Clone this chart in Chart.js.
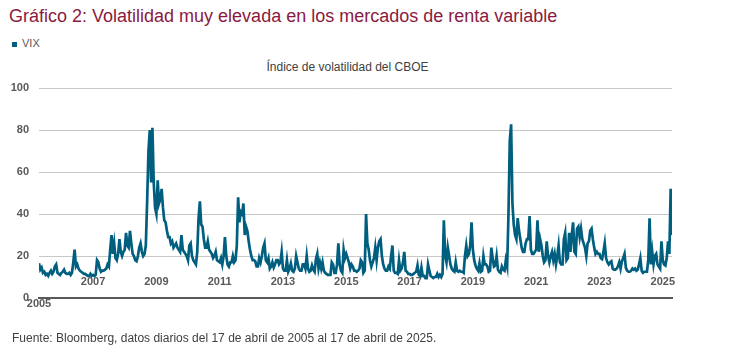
<!DOCTYPE html>
<html>
<head>
<meta charset="utf-8">
<script src="https://cdn.jsdelivr.net/npm/chart.js@4.4.1/dist/chart.umd.min.js"></script>
<style>
    body { margin: 0; width: 737px; height: 352px; background: #fff; font-family: 'Liberation Sans', Arial, sans-serif; position: relative; overflow: hidden; }
    #titulo { position: absolute; left: 9px; top: 6px; font-size: 18px; color: #8a1a40; white-space: nowrap; }
    #leyenda { position: absolute; left: 12px; top: 37px; font-size: 11px; color: #595959; }
    #leyenda span { display: inline-block; width: 5px; height: 5px; background: #005f7f; margin-right: 5px; vertical-align: 0px; }
    #subtitulo { position: absolute; left: 0; width: 695px; top: 60px; text-align: center; font-size: 12px; color: #404040; }
    #fuente { position: absolute; left: 12px; top: 331px; font-size: 12px; color: #404040; white-space: nowrap; }
    canvas { position: absolute; left: 0; top: 0; }
</style>
</head>
<body>
<div id="titulo">Gráfico 2: Volatilidad muy elevada en los mercados de renta variable</div>
<div id="leyenda"><span></span>VIX</div>
<div id="subtitulo">Índice de volatilidad del CBOE</div>
<canvas id="myChart" width="737" height="352"></canvas>
<div id="fuente">Fuente: Bloomberg, datos diarios del 17 de abril de 2005 al 17 de abril de 2025.</div>

<script>
// VIX, two readings per month (1st and 2nd half)
const vix2005 = [16.5, 13.5, 14.5, 12, 12.5, 11, 11.5, 10.5, 12, 13, 11.5, 12.5, 15, 16, 12, 11.5, 11] // from mid April
const vix2006 = [12, 12.5, 13.5, 12, 11.5, 11.5, 12, 11, 12, 17, 23, 15, 16, 14, 13, 12.5, 12, 11.5, 11.5, 11, 10.5, 10.5, 11.5, 10.5]
const vix2007 = [11, 10.5, 11, 18, 17, 14, 12.5, 13, 13, 13.5, 14, 16, 15, 23, 30, 21, 26, 19, 18, 21, 28, 22, 20, 22]
const vix2008 = [23, 31, 25, 24, 32, 26, 21, 20, 18, 17.5, 20, 24, 26, 22, 20, 21, 25, 46, 70, 80, 55, 81, 55, 43]
const vix2009 = [40, 56, 45, 47, 52, 43, 37, 36, 32, 29, 29, 26, 27, 24, 25, 26, 24, 23, 22, 30, 23, 22, 21, 20]
const vix2010 = [18, 25, 26, 20, 18, 17, 16, 22, 38, 46, 35, 34, 28, 24, 24, 27, 23, 22, 21, 19, 20, 22, 18, 17.5]
const vix2011 = [17, 19, 16, 20, 29, 20, 16, 15, 17, 17, 20, 17, 18, 25, 48, 36, 41, 40, 45, 30, 34, 32, 27, 23]
const vix2012 = [20, 18, 18, 17.5, 15, 15, 19, 17, 20, 24, 26, 18, 17, 19, 14, 15, 17, 14.5, 16, 18, 18, 16, 17, 22]
const vix2013 = [14, 13, 13, 18, 12.5, 14, 16.5, 13, 12.5, 14, 20, 17, 14, 13, 13, 16, 16, 14, 20, 14, 12.5, 13, 15.5, 13.5]
const vix2014 = [12.5, 18.5, 21, 14, 17, 14, 17, 13, 12, 11.5, 11, 11, 11, 17, 16, 12, 12, 16, 26, 16, 13, 12, 23, 19]
const vix2015 = [21, 19, 17, 14, 16, 15, 13, 13, 12.5, 13, 14, 18, 17, 12, 13, 40, 26, 23, 18, 15, 17, 19, 24, 18]
const vix2016 = [24, 27, 28, 20, 16, 14, 13, 13, 15, 14, 20, 25, 13, 12, 12, 11.5, 18, 13, 14, 17, 22, 13, 12.5, 11.5]
const vix2017 = [11.5, 11, 11, 11.5, 12, 12.5, 15.5, 11, 10.5, 14.5, 10.5, 10.5, 9.5, 9.5, 16, 13, 10.5, 10, 9.5, 10, 10, 11.5, 10, 11]
const vix2018 = [10, 11.5, 37, 20, 17, 24, 20, 16, 14, 13, 12.5, 17, 13, 12.5, 13, 12.5, 12.5, 12, 20, 25, 20, 21, 25, 36]
const vix2019 = [23, 18, 15.5, 14, 13, 16.5, 12.5, 13, 20, 16, 16, 15, 12.5, 13, 24, 19, 15, 15.5, 20, 13.5, 12.5, 12, 15, 13.5]
const vix2020 = [13, 18, 15, 40, 75, 82.7, 45, 35, 30, 28, 38, 32, 28, 24, 22, 22, 26, 28, 28, 39, 23, 21, 21, 22]
const vix2021 = [23, 37, 22, 28, 25, 20, 17, 18, 27, 20, 17, 20, 22, 18, 21, 16, 20, 25, 17, 16, 16, 28, 31, 18]
const vix2022 = [19, 31, 22, 30, 36, 22, 21, 33, 34, 29, 33, 28, 26, 24, 20, 26, 27, 32, 33, 28, 24, 21, 22, 21]
const vix2023 = [21, 19, 18.5, 22, 26, 19, 17, 16, 17, 17.5, 14, 13.5, 13.5, 14, 15, 17, 14, 17.5, 19, 21, 14.5, 13, 12.5, 12.5]
const vix2024 = [13, 14, 13.5, 14, 13, 13.5, 16, 19, 13, 12, 12.5, 12.5, 12.5, 18, 38, 16, 22, 16, 20, 21, 16, 15, 14, 27]
const vix2025 = [18, 16, 15.5, 19, 27, 21, 52, 30] // to 17 April

const years = [2005, 2006, 2007, 2008, 2009, 2010, 2011, 2012, 2013, 2014, 2015,
    2016, 2017, 2018, 2019, 2020, 2021, 2022, 2023, 2024, 2025]
const series = [vix2005, vix2006, vix2007, vix2008, vix2009, vix2010, vix2011, vix2012, vix2013, vix2014, vix2015,
    vix2016, vix2017, vix2018, vix2019, vix2020, vix2021, vix2022, vix2023, vix2024, vix2025]

const tickYears = [2007, 2009, 2011, 2013, 2015, 2017, 2019, 2021, 2023, 2025]
const yTicks = [0, 20, 40, 60, 80, 100]

const startX = 2005 + 7 / 24
const endX = 2025 + 7 / 24

// build x (decimal year) / y pairs
const points = []
years.forEach((yr, k) => {
    const arr = series[k]
    const offset = yr === 2005 ? 24 - arr.length : 0
    arr.forEach((v, i) => {
        points.push({ x: yr + (i + offset) / 24, y: v })
    })
})

const tickFont = { family: "'Liberation Sans', Arial, sans-serif", size: 11, weight: 'bold' }

// "2005" label under the start of the axis
const startLabel = {
    id: 'startLabel',
    afterDraw(chart) {
        const ctx = chart.ctx
        const x = chart.scales.x.getPixelForValue(startX)
        ctx.save()
        ctx.font = 'bold 11px "Liberation Sans", Arial, sans-serif'
        ctx.fillStyle = '#595959'
        ctx.textAlign = 'center'
        ctx.textBaseline = 'middle'
        ctx.fillText('2005', x, chart.chartArea.bottom + 6)
        ctx.restore()
    }
}

new Chart(document.getElementById('myChart'), {
    type: 'line',
    data: {
        datasets: [{
            label: 'VIX',
            data: points,
            borderColor: '#005f7f',
            borderWidth: 2.7,
            pointRadius: 0,
            tension: 0
        }]
    },
    options: {
        responsive: false,
        animation: false,
        layout: { padding: { left: 0, right: 65, top: 88, bottom: 0 } },
        plugins: {
            legend: { display: false },
            tooltip: { enabled: false }
        },
        scales: {
            x: {
                type: 'linear',
                min: startX,
                max: endX,
                afterBuildTicks: scale => {
                    scale.ticks = tickYears.map(v => ({ value: v }))
                },
                afterFit: scale => { scale.height = 54 },
                ticks: {
                    autoSkip: false,
                    maxRotation: 0,
                    mirror: true, // labels sit just above the axis line
                    padding: 9,
                    color: '#595959',
                    font: tickFont,
                    callback: v => String(v)
                },
                grid: { display: false, drawTicks: false },
                border: { display: true, color: '#595959', width: 2 }
            },
            y: {
                min: 0,
                max: 100,
                afterBuildTicks: scale => {
                    scale.ticks = yTicks.map(v => ({ value: v }))
                },
                afterFit: scale => { scale.width = 39 },
                ticks: {
                    padding: 10,
                    color: '#595959',
                    font: tickFont
                },
                grid: { color: '#c8c8c8', lineWidth: 1, drawTicks: false },
                border: { display: false }
            }
        }
    },
    plugins: [startLabel]
})
</script>
</body>
</html>
